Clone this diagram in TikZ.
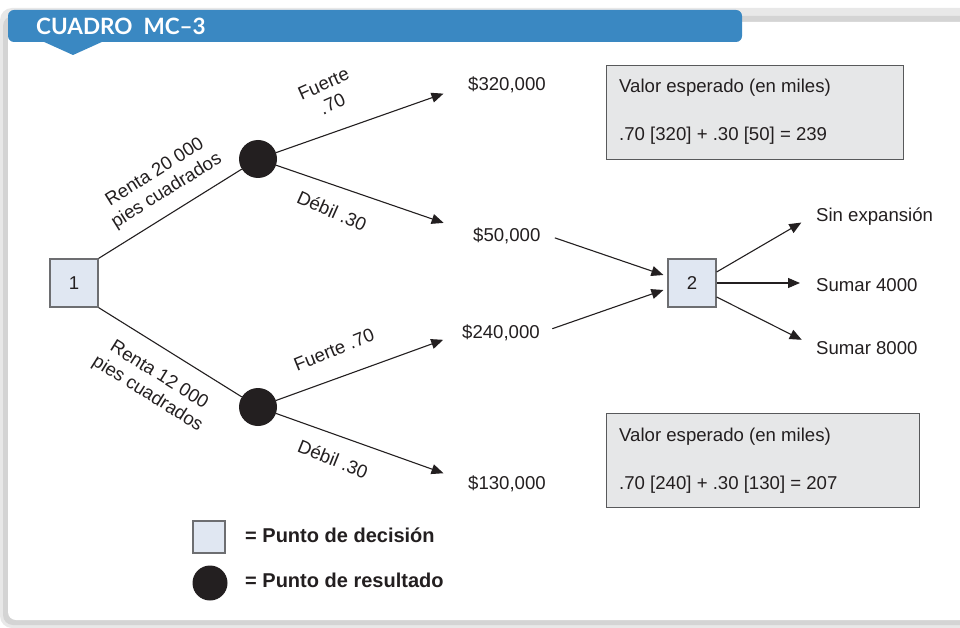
\documentclass[tikz,border=0pt]{standalone}
\usepackage{fontspec}
\setmainfont{Liberation Sans}
\newfontfamily\headfont{Lato}
\usetikzlibrary{arrows.meta,calc}

\definecolor{hdrblue}{HTML}{3A88C2}
\definecolor{ink}{HTML}{231F20}
\definecolor{decfill}{HTML}{E0E7F2}
\definecolor{decline}{HTML}{6D6E71}
\definecolor{evfill}{HTML}{E6E7E8}
\definecolor{evline}{HTML}{58595B}

\tikzset{
  txt/.style={font=\fontsize{18.6}{22}\selectfont, text=ink, inner sep=0pt},
  lbl/.style={txt, align=center},
  val/.style={txt, anchor=west},
  decbox/.style={draw=decline, fill=decfill, line width=1.2pt, minimum size=48pt,
                 inner sep=0pt, font=\fontsize{18.6}{22}\selectfont, text=ink},
  chance/.style={circle, fill=ink, minimum size=38pt, inner sep=0pt},
  evbox/.style={draw=evline, fill=evfill, line width=1.2pt, anchor=north west, inner sep=0pt},
  conn/.style={draw=ink, line width=1.1pt},
  arr/.style={conn, -{Triangle[length=12pt,width=10pt]}},
  legtext/.style={font=\bfseries\fontsize{20}{24}\selectfont, text=ink, anchor=west, inner sep=0pt},
}

\begin{document}
\begin{tikzpicture}[x=1pt,y=-1pt]
\useasboundingbox (0,0) rectangle (960,628);

% panel with soft grey frame
\begin{scope}
  \clip (0,0) rectangle (960,628);
  \fill[white] (0,0) rectangle (960,628);
  \fill[black!9, rounded corners=12pt] (0,8) rectangle (1000,628);
  \fill[black!17, rounded corners=10pt] (3,16) rectangle (1000,625);
  \fill[white, rounded corners=8pt] (8,22) rectangle (1000,620);
\end{scope}

% title bar
\fill[hdrblue, rounded corners=6pt] (8,10) rectangle (742,42);
\fill[hdrblue] (42,41) -- (104,41) -- (73,55) -- cycle;
\node[anchor=west, inner sep=0pt, text=white, font=\headfont\bfseries\fontsize{22.5}{26}\selectfont]
  (title) at (36,26) {CUADRO\ \ MC–3};

% decision and chance nodes
\node[decbox] (n1) at (74,283) {1};
\node[decbox] (n2) at (692,283) {2};
\node[chance] (c1) at (258,159) {};
\node[chance] (c2) at (258,407) {};

% payoffs
\node[val] (v1) at (468,85)  {\$320,000};
\node[val] (v2) at (473,236) {\$50,000};
\node[val] (v3) at (462,333) {\$240,000};
\node[val] (v4) at (468,484) {\$130,000};

% options after the second decision
\node[val] (o1) at (816,217) {Sin expansión};
\node[val] (o2) at (816,285) {Sumar 4000};
\node[val] (o3) at (816,348) {Sumar 8000};

% first decision branches
\draw[conn] (n1.north east) -- (c1);
\draw[conn] (n1.south east) -- (c2);
\node[lbl, rotate=32]  (r1) at (161,182) {Renta 20 000\\pies cuadrados};
\node[lbl, rotate=-32] (r2) at (153,385) {Renta 12 000\\pies cuadrados};

% outcome branches
\draw[arr, shorten >=26pt] (c1) -- (v1.west);
\draw[arr, shorten >=31pt] (c1) -- ([yshift=3pt]v2.west);
\draw[arr, shorten >=20pt] (c2) -- (v3.west);
\draw[arr, shorten >=26pt] (c2) -- ([yshift=2pt]v4.west);
\node[lbl, rotate=24]  (p1) at (328,94)  {Fuerte\\.70};
\node[lbl, rotate=-24] (p2) at (332,211) {Débil .30};
\node[lbl, rotate=22]  (p3) at (334,350) {Fuerte .70};
\node[lbl, rotate=-22] (p4) at (333,459) {Débil .30};

% into the second decision
\draw[arr, shorten <=15pt] ([yshift=3pt]v2.east) -- ([xshift=-4pt,yshift=8pt]n2.west);
\draw[arr, shorten <=13pt] (v3.east) -- ([xshift=-4pt,yshift=-7pt]n2.west);

% second decision options
\draw[arr, shorten >=17pt] ([yshift=11pt]n2.east) -- ([yshift=3pt]o1.west);
\draw[arr, shorten >=16pt] (n2.east) -- ([yshift=2pt]o2.west);
\draw[arr, shorten >=16pt] ([yshift=-14pt]n2.east) -- ([yshift=1pt]o3.west);

% expected values
\node[evbox, minimum width=297pt, minimum height=94pt] (ev1) at (606,65) {};
\node[val] (e1a) at (619,88)  {Valor esperado (en miles)};
\node[val] (e1b) at (619,136) {.70 [320] + .30 [50] = 239};
\node[evbox, minimum width=313pt, minimum height=94pt] (ev2) at (606,413) {};
\node[val] (e2a) at (619,437) {Valor esperado (en miles)};
\node[val] (e2b) at (619,485) {.70 [240] + .30 [130] = 207};

% key
\node[decbox, minimum size=32pt] (k1) at (209,537) {};
\node[legtext] (k1t) at (245,535) {= Punto de decisión};
\node[chance, minimum size=35pt] (k2) at (210,583) {};
\node[legtext] (k2t) at (245,580) {= Punto de resultado};
\end{tikzpicture}
\end{document}
